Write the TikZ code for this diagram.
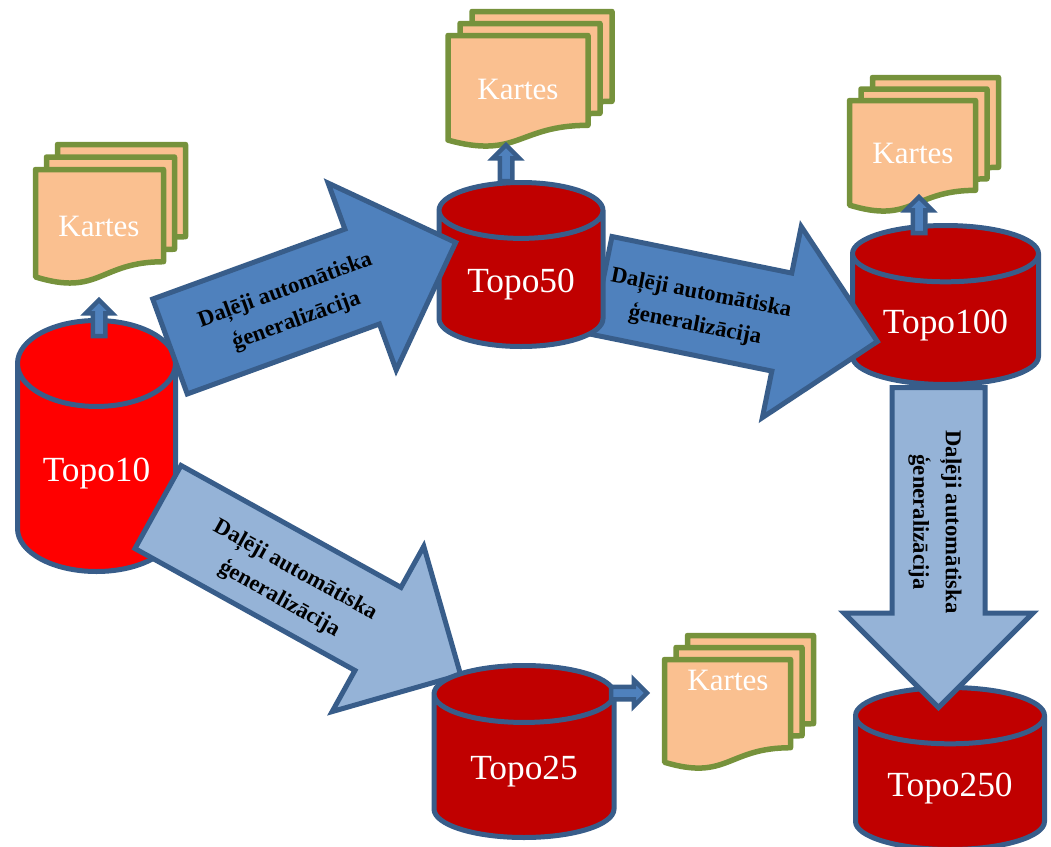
\documentclass[tikz,border=0pt]{standalone}
\usepackage{fontspec}
\setmainfont{Liberation Serif}
\usetikzlibrary{shapes.geometric,shapes.arrows}
\definecolor{edgeblue}{HTML}{385D8A}
\definecolor{midblue}{HTML}{4F81BD}
\definecolor{paleblue}{HTML}{95B3D7}
\definecolor{darkred}{HTML}{C00000}
\definecolor{mapfill}{HTML}{FAC090}
\definecolor{mapedge}{HTML}{76923C}
\def\px{0.75pt}
\tikzset{
	database/.style n args={4}{
		cylinder, shape border rotate=90, aspect=#3, anchor=shape center, draw=edgeblue, line width=5*\px,
		fill=#4, text=white, font=\fontsize{26.5}{30}\selectfont, inner sep=0pt, outer sep=0pt,
		text height=25pt, minimum width=#1*\px, minimum height=#2*\px
	},
	%
	bigarrow/.style n args={4}{
		single arrow, shape border rotate=0, rotate=#4, anchor=tail, draw=edgeblue, line width=5*\px,
		inner xsep=0pt, inner ysep=#2/2*\px, outer sep=0pt, minimum height=#1*\px,
		single arrow head extend=#3/2*\px-#2/2*\px, single arrow tip angle=90
	},
	%
	smallarrow/.style={
		bigarrow={#1}{8}{22}{90}, fill=midblue, line width=4.5*\px
	},
	%
	arrowtext/.style={
		font=\fontsize{17}{24.5}\selectfont\bfseries, align=center, inner sep=0pt
	},
	%
	mappage/.style={
		draw=mapedge, line width=5.5*\px, line join=round, fill=mapfill
	},
	%
	maptext/.style={
		text=white, font=\fontsize{23.3}{28}\selectfont, inner sep=0pt
	}
}
% x y w h dx dy : one stack of three map sheets
\newcommand{\mapstack}[6]{
	\foreach \n in {2,1,0}{
		\draw[mappage, shift={(#1+\n*#5,#2+\n*#6)}] (0,0) -- (#3,0) -- (#3,0.802*#4)
			.. controls (0.5*#3,0.802*#4) and (0.5*#3,1.107*#4) .. (0,0.934*#4) -- cycle;
	}
}

\begin{document}
\begin{tikzpicture}[x=0.75pt,y=-0.75pt]
    \useasboundingbox (0,0) rectangle (1051,847);
    \node(T10)[database={158}{251}{0.8}{red}] at (96.5,446){Topo10};
    \node(T250)[database={189}{162}{0.45}{darkred}] at (950,768.5){Topo250};
    \node(A250)[bigarrow={320}{88}{184}{-90}, fill=paleblue] at (938.5,387.5){};
    \node[arrowtext, rotate=-90] at (935,522){Daļēji automātiska\\ģeneralizācija};
    \node(T100)[database={186}{159}{0.45}{darkred}] at (945.5,305){Topo100};
    \node(A100)[bigarrow={281}{95}{190}{-11.5}, fill=midblue] at (602,285.5){};
    \node[arrowtext, rotate=-11] at (698,310){Daļēji automātiska\\ģeneralizācija};
    \node(T50)[database={164}{164}{0.52}{darkred}] at (521,264.5){Topo50};
    \node(A50)[bigarrow={304}{96}{194}{20}, fill=midblue] at (170,346.5){};
    \node[arrowtext, rotate=20] at (291,306){Daļēji automātiska\\ģeneralizācija};
    \node(A25)[bigarrow={346}{90}{184}{-29}, fill=paleblue] at (158,507){};
    \node[arrowtext, rotate=-29] at (287,585){Daļēji automātiska\\ģeneralizācija};
    \node(T25)[database={180}{172}{0.53}{darkred}] at (524,751.5){Topo25};

    \mapstack{35.5}{169.5}{128}{115}{11}{-12.5}
    \node(K10)[maptext] at (99,226){Kartes};
    \mapstack{448}{35.5}{140}{112}{12}{-12}
    \node(K50)[maptext] at (518,89){Kartes};
    \mapstack{849.5}{100.5}{126}{112}{11.5}{-11.5}
    \node(K100)[maptext] at (913,153){Kartes};
    \mapstack{664.5}{659.5}{126}{110}{11.5}{-12}
    \node(K25)[maptext] at (728,680){Kartes};

    \node(U10)[smallarrow={36}] at (99,336){};
    \node(U50)[smallarrow={36}] at (506,181){};
    \node(U100)[smallarrow={36}] at (919,233){};
    \node(U25)[bigarrow={36}{8}{22}{0}, fill=midblue, line width=4.5*\px] at (611,693){};
\end{tikzpicture}
\end{document}
